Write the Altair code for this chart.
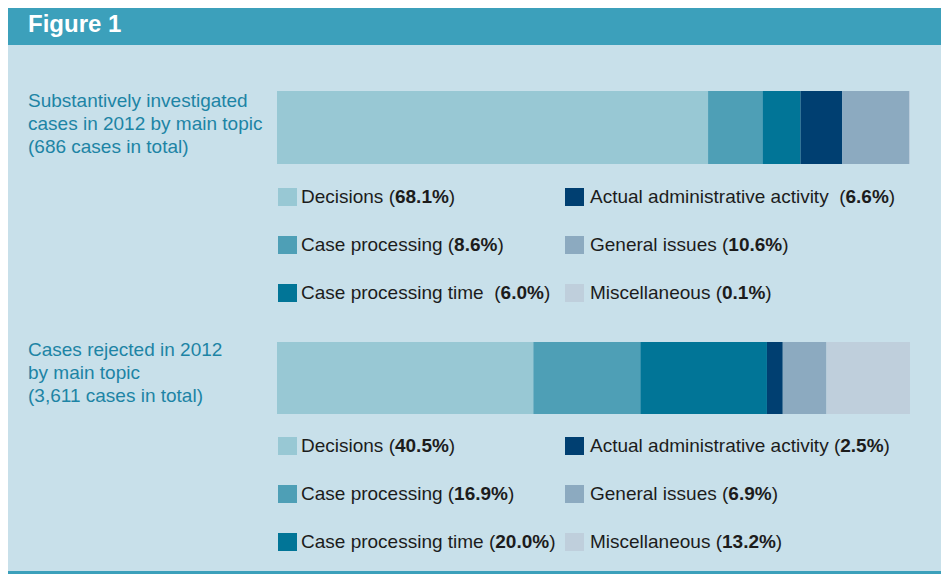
import altair as alt
import pandas as pd

# ---------------- data ----------------
figure_title = "Figure 1"
categories = ["Decisions", "Case processing", "Case processing time",
              "Actual administrative activity", "General issues", "Miscellaneous"]
colors = ["#98c8d4", "#4e9fb6", "#017597", "#003f71", "#8caac0", "#bfcfdc"]
investigated_pct = [68.1, 8.6, 6.0, 6.6, 10.6, 0.1]
rejected_pct = [40.5, 16.9, 20.0, 2.5, 6.9, 13.2]
investigated_title = ["Substantively investigated", "cases in 2012 by main topic",
                      "(686 cases in total)"]
rejected_title = ["Cases rejected in 2012", "by main topic", "(3,611 cases in total)"]

# ---------------- layout (pixels, chart coordinates) ----------------
W_CHART, H_CHART = 933, 566
BG = "#c8e0ea"
HEAD = "#3ca0bb"
LABEL_COLOR = "#1d84a5"
TEXT_COLOR = "#1c1c1c"
FONT = "Liberation Sans"
FS = 19

BAR_X0, BAR_X1 = 269, 902
blocks = [
    dict(pct=investigated_pct, title=investigated_title, bar=(83, 156),
         title_y=93, rows=[189, 237, 285], spaces=[1, 1, 2, 2, 1, 1]),
    dict(pct=rejected_pct, title=rejected_title, bar=(334, 406),
         title_y=342, rows=[438, 486, 534], spaces=[1, 1, 1, 1, 1, 1]),
]
COL_SQ = [270, 557]
COL_TX = [293, 582]
SQ = 18

# Arial / Liberation Sans advance widths (units per 2048 em)
WID = {" ": 569, "(": 682, ")": 682, "%": 1821, ".": 569, ",": 569,
       "A": 1366, "C": 1479, "D": 1479, "G": 1593, "M": 1706,
       "a": 1139, "b": 1139, "c": 1024, "d": 1139, "e": 1139, "g": 1139,
       "i": 455, "l": 455, "m": 1706, "n": 1139, "o": 1139, "p": 1139,
       "r": 682, "s": 1024, "t": 569, "u": 1139, "v": 1024, "y": 1024}


def tw(s, size=FS):
    return sum(WID.get(ch, 1139) for ch in s) / 2048 * size


seg_rows, sq_rows, reg_rows, bold_rows, title_rows = [], [], [], [], []
for b, blk in enumerate(blocks):
    start = 0.0
    for cat, v in zip(categories, blk["pct"]):
        seg_rows.append(dict(block=b, cat=cat, start=start, end=start + v))
        start += v
    for i, (cat, v) in enumerate(zip(categories, blk["pct"])):
        col, row = divmod(i, 3)
        yc = blk["rows"][row]
        sq_rows.append(dict(block=b, cat=cat, x=COL_SQ[col], x2=COL_SQ[col] + SQ + 1,
                            y=yc - SQ / 2, y2=yc + SQ / 2))
        x = COL_TX[col]
        reg_rows.append(dict(block=b, t=cat, x=x, y=yc))
        x += tw(cat) + blk["spaces"][i] * tw(" ")
        reg_rows.append(dict(block=b, t="(", x=x, y=yc))
        x += tw("(")
        num = f"{v:.1f}%"
        bold_rows.append(dict(block=b, t=num, x=x, y=yc))
        x += tw(num)
        reg_rows.append(dict(block=b, t=")", x=x, y=yc))
    for j, line in enumerate(blk["title"]):
        title_rows.append(dict(t=line, x=20, y=blk["title_y"] + 23 * j))

seg_df = pd.DataFrame(seg_rows)
sq_df = pd.DataFrame(sq_rows)
reg_df = pd.DataFrame(reg_rows)
bold_df = pd.DataFrame(bold_rows)
title_df = pd.DataFrame(title_rows)
one = pd.DataFrame({"a": [0]})

color_scale = alt.Scale(domain=categories, range=colors)
px = dict(scale=None, axis=None)

header = alt.Chart(one).mark_rect(color=HEAD).encode(
    x=alt.value(0), x2=alt.value(W_CHART), y=alt.value(0), y2=alt.value(37))
header_text = alt.Chart(one).mark_text(
    text=figure_title, font=FONT, fontSize=24, fontWeight="bold", color="white",
    align="left", baseline="middle").encode(x=alt.value(20), y=alt.value(17))
bottom_line = alt.Chart(one).mark_rect(color=HEAD).encode(
    x=alt.value(0), x2=alt.value(W_CHART), y=alt.value(H_CHART - 3), y2=alt.value(H_CHART))

bar_layers = []
for b, blk in enumerate(blocks):
    bar_layers.append(
        alt.Chart(seg_df[seg_df.block == b]).mark_rect().encode(
            x=alt.X("start:Q", scale=alt.Scale(domain=[0, 100], range=[BAR_X0, BAR_X1]),
                    axis=None),
            x2="end:Q",
            y=alt.value(blk["bar"][0]), y2=alt.value(blk["bar"][1]),
            color=alt.Color("cat:N", scale=color_scale, legend=None),
        )
    )

squares = alt.Chart(sq_df).mark_rect().encode(
    x=alt.X("x:Q", **px), x2="x2:Q",
    y=alt.Y("y:Q", **px), y2="y2:Q",
    color=alt.Color("cat:N", scale=color_scale, legend=None))

reg_text = alt.Chart(reg_df).mark_text(
    font=FONT, fontSize=FS, color=TEXT_COLOR, align="left", baseline="middle").encode(
    x=alt.X("x:Q", **px), y=alt.Y("y:Q", **px), text="t:N")
bold_text = alt.Chart(bold_df).mark_text(
    font=FONT, fontSize=FS, fontWeight="bold", color=TEXT_COLOR, align="left",
    baseline="middle").encode(
    x=alt.X("x:Q", **px), y=alt.Y("y:Q", **px), text="t:N")
titles = alt.Chart(title_df).mark_text(
    font=FONT, fontSize=FS, color=LABEL_COLOR, align="left", baseline="middle").encode(
    x=alt.X("x:Q", **px), y=alt.Y("y:Q", **px), text="t:N")

chart = alt.layer(
    header, header_text, *bar_layers, squares, reg_text, bold_text, titles, bottom_line
).resolve_scale(x="independent", y="independent", color="shared").properties(
    width=W_CHART, height=H_CHART, padding=0, background=BG,
    autosize=alt.AutoSizeParams(type="none"),
).configure_view(stroke=None)

chart.save("out.html", embed_options={"renderer": "svg", "actions": False})
